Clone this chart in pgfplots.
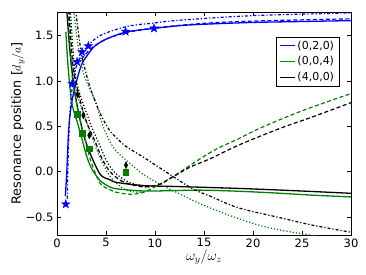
\documentclass[border=0pt]{standalone}
\usepackage{fontspec}
\setmainfont{DejaVu Sans}
\usepackage{pgfplots}
\pgfplotsset{compat=1.18}
\definecolor{mgreen}{rgb}{0,0.5,0}
\pgfdeclareplotmark{fstar}{%
 \pgfpathmoveto{\pgfpointpolar{90}{\pgfplotmarksize}}%
 \pgfpathlineto{\pgfpointpolar{126}{0.4\pgfplotmarksize}}%
 \pgfpathlineto{\pgfpointpolar{162}{\pgfplotmarksize}}%
 \pgfpathlineto{\pgfpointpolar{198}{0.4\pgfplotmarksize}}%
 \pgfpathlineto{\pgfpointpolar{234}{\pgfplotmarksize}}%
 \pgfpathlineto{\pgfpointpolar{270}{0.4\pgfplotmarksize}}%
 \pgfpathlineto{\pgfpointpolar{306}{\pgfplotmarksize}}%
 \pgfpathlineto{\pgfpointpolar{342}{0.4\pgfplotmarksize}}%
 \pgfpathlineto{\pgfpointpolar{18}{\pgfplotmarksize}}%
 \pgfpathlineto{\pgfpointpolar{54}{0.4\pgfplotmarksize}}%
 \pgfpathclose
 \pgfusepathqfillstroke
}
\begin{document}
\begin{tikzpicture}
\useasboundingbox (-57pt,-39pt) rectangle (309pt,235pt);
\begin{axis}[
 width=294pt,height=223pt,scale only axis,
 xmin=0,xmax=30,ymin=-0.7,ymax=1.76,
 xtick={0,5,10,15,20,25,30},
 xticklabels={0,5,10,15,20,25,30},
 ytick={-0.5,0,0.5,1,1.5},
 yticklabels={−0.5,0.0,0.5,1.0,1.5},
 tick label style={font=\fontsize{11.5}{13}\selectfont},
 tick align=inside, major tick length=4pt,
 tick style={black,line width=0.5pt},
 axis line style={line width=0.6pt},
 xlabel={$\omega_y/\omega_z$},
 ylabel={Resonance position [$d_y/a$]},
 xlabel style={font=\fontsize{14}{16}\selectfont,at={(axis description cs:0.5,-0.099)},anchor=center},
 ylabel style={font=\fontsize{12.8}{14}\selectfont,at={(axis description cs:-0.133,0.5)},anchor=center},
 legend style={at={(0.96,0.89)},anchor=north east,font=\fontsize{11}{13}\selectfont,draw=black,row sep=2pt},
 legend cell align=left,
 legend image code/.code={\draw[#1,line width=1.6pt] (0pt,0pt) -- (15pt,0pt);},
 dott/.style={dash pattern=on 1.2pt off 2pt},
 dashd/.style={dash pattern=on 4pt off 2.5pt},
 dashdot/.style={dash pattern=on 3pt off 2pt on 1.2pt off 2pt},
]
\addlegendimage{solid,draw=blue}
\addlegendentry{(0,2,0)}
\addlegendimage{solid,draw=mgreen}
\addlegendentry{(0,0,4)}
\addlegendimage{solid,draw=black}
\addlegendentry{(4,0,0)}
% ---- blue (0,2,0)
\addplot[blue,line width=1.3pt,smooth,no marks,forget plot] coordinates {(0.85,-0.27)(1.0,0.0)(1.15,0.38)(1.3,0.6)(1.5,0.76)(1.7,0.87)(2.0,1.0)(2.35,1.13)(2.7,1.22)(3.7,1.37)(4.05,1.40)(5,1.46)(7.1,1.54)(10,1.58)(12.6,1.61)(15,1.625)(20,1.645)(25,1.655)(30,1.665)};
% ---- green (0,0,4)
\addplot[mgreen,line width=1.3pt,smooth,no marks,forget plot] coordinates {(0.9,1.54)(1.1,1.2)(1.3,0.95)(1.45,0.8)(1.65,0.69)(2.0,0.57)(2.5,0.38)(3.0,0.18)(3.5,0.04)(4.4,-0.1)(5.4,-0.17)(6.1,-0.19)(8,-0.21)(9.5,-0.215)(12,-0.21)(14.6,-0.205)(18,-0.215)(22,-0.235)(26,-0.26)(30,-0.28)};
% ---- black (4,0,0)
\addplot[black,line width=1.3pt,smooth,no marks,forget plot] coordinates {(1.0,1.78)(1.3,1.35)(1.66,1.0)(2.0,0.76)(2.5,0.5)(2.85,0.36)(3.3,0.22)(4.4,-0.03)(5.4,-0.09)(6.1,-0.12)(8.8,-0.155)(12.2,-0.165)(18.5,-0.186)(24,-0.21)(30,-0.24)};
% blue others
\addplot[blue,line width=1.2pt,dashdot,smooth,no marks,forget plot] coordinates {(1.05,-0.3)(1.15,0.2)(1.3,0.6)(1.5,0.88)(1.8,1.08)(2.17,1.22)(3,1.37)(4.4,1.5)(7.1,1.6)(10,1.64)(12.6,1.67)(20,1.72)(30,1.75)};
\addplot[blue,line width=1.2pt,dashd,smooth,no marks,forget plot] coordinates {(2.5,1.24)(3.5,1.36)(5,1.46)(7,1.53)(10,1.585)(15,1.635)(20,1.66)(30,1.685)};
% green others
\addplot[mgreen,line width=1.2pt,dashd,smooth,no marks,forget plot] coordinates {(1.1,1.78)(1.5,1.1)(2.0,0.75)(2.5,0.5)(3.0,0.3)(3.5,0.1)(4.4,-0.13)(5.4,-0.2)(6.1,-0.23)(7.45,-0.25)(8.8,-0.23)(10.5,-0.14)(12.2,-0.03)(14.3,0.12)(16.3,0.25)(18.5,0.36)(20.7,0.478)(25,0.67)(30,0.86)};
\addplot[mgreen,line width=1.2pt,dott,smooth,no marks,forget plot] coordinates {(1.25,1.78)(1.6,1.2)(2.0,0.89)(2.5,0.7)(3,0.55)(3.5,0.4)(4.4,0.15)(5.4,-0.05)(6.5,-0.17)(7.5,-0.22)(8.8,-0.23)};
\addplot[mgreen,line width=1.2pt,dott,smooth,no marks,forget plot] coordinates {(1.7,1.78)(2.2,1.35)(2.8,1.05)(3.9,0.78)(4.7,0.5)(5.4,0.33)(6.1,0.22)(7.45,0.09)(8.8,-0.03)(10.5,-0.14)(12.2,-0.23)(14.3,-0.34)(17,-0.46)(20.4,-0.585)(23,-0.65)(25.8,-0.70)(27,-0.73)};
% black others
\addplot[black,line width=1.2pt,dashd,smooth,no marks,forget plot] coordinates {(1.2,1.78)(1.6,1.2)(2.0,0.95)(2.3,0.81)(3.0,0.55)(3.9,0.33)(4.6,0.14)(5.4,0.0)(6.5,-0.1)(7.45,-0.14)(9.0,-0.17)(10.5,-0.14)(11.5,-0.08)(13.6,0.05)(15.6,0.14)(18.5,0.29)(22.8,0.478)(26,0.6)(30,0.76)};
\addplot[black,line width=1.2pt,dott,smooth,no marks,forget plot] coordinates {(1.35,1.78)(1.84,1.1)(2.35,0.85)(3.0,0.65)(3.5,0.5)(4.2,0.33)(5.0,0.13)(5.8,0.0)(7,-0.1)(8,-0.14)(9.5,-0.17)};
\addplot[black,line width=1.2pt,dashdot,smooth,no marks,forget plot] coordinates {(1.9,1.78)(2.5,1.3)(3.4,0.92)(4.5,0.62)(5.4,0.45)(6.1,0.37)(7,0.28)(8.8,0.16)(10.5,0.04)(12.2,-0.08)(14,-0.2)(15.6,-0.27)(18.5,-0.40)(22.8,-0.51)(26,-0.59)(30,-0.67)};
% markers
\addplot[only marks,mark=fstar,mark size=4.5pt,blue,fill=blue,line width=0.4pt,forget plot] coordinates {(0.9,-0.36)(1.55,0.97)(2.05,1.21)(2.55,1.32)(3.2,1.385)(7.0,1.545)(9.9,1.58)};
\addplot[only marks,mark=square*,mark size=2.8pt,mgreen,fill=mgreen,line width=0.4pt,forget plot] coordinates {(2.05,0.63)(2.6,0.42)(3.27,0.25)(7.0,-0.01)};
\addplot[only marks,mark=diamond*,mark size=3.5pt,mark options={xscale=0.65},black,fill=black,line width=0.4pt,forget plot] coordinates {(2.1,0.85)(2.69,0.62)(3.3,0.40)(7.04,0.07)};
\end{axis}
\end{tikzpicture}
\end{document}
